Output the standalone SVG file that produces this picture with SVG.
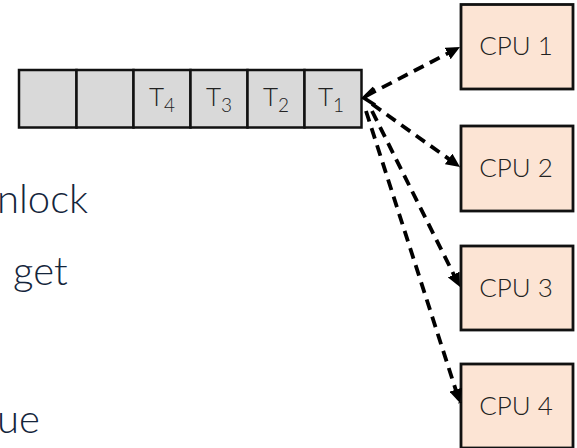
<svg xmlns="http://www.w3.org/2000/svg" width="577" height="448" viewBox="0 0 577 448">
<style>
.bg{fill:#ffffff}
.cell{fill:#d9d9d9;stroke:#111;stroke-width:2.5}
.cpu{fill:#fce4d4;stroke:#111;stroke-width:2.8}
.lbl{font-family:"Lato","Liberation Sans",sans-serif;font-weight:300;font-size:26px;fill:#222;text-anchor:middle}
.sub{font-size:19px}
.side{font-family:"Lato","Liberation Sans",sans-serif;font-weight:300;font-size:40px;fill:#14253b}
.conn{fill:none;stroke:#000;stroke-width:3.8;stroke-dasharray:11 7}
</style>
<defs>
<marker id="ah" markerUnits="userSpaceOnUse" markerWidth="15" markerHeight="13" refX="14" refY="6.5" orient="auto">
<path d="M0,0 L14,6.5 L0,13 Z" fill="#000"/>
</marker>
</defs>
<rect class="bg" x="0" y="0" width="577" height="448"/>
<g id="side-text">
<text class="side" x="-3" y="213">nlock</text>
<text class="side" x="13" y="285">get</text>
<text class="side" x="-3" y="433">ue</text>
</g>
<g id="queue">
<rect class="cell" x="19" y="70" width="57.5" height="57.5"/>
<rect class="cell" x="76.5" y="70" width="57" height="57.5"/>
<rect class="cell" x="133.5" y="70" width="57" height="57.5"/>
<rect class="cell" x="190.5" y="70" width="57" height="57.5"/>
<rect class="cell" x="247.5" y="70" width="57" height="57.5"/>
<rect class="cell" x="304.5" y="70" width="57" height="57.5"/>
<text class="lbl" x="162" y="106">T<tspan class="sub" dy="6">4</tspan></text>
<text class="lbl" x="219" y="106">T<tspan class="sub" dy="6">3</tspan></text>
<text class="lbl" x="276" y="106">T<tspan class="sub" dy="6">2</tspan></text>
<text class="lbl" x="331" y="106">T<tspan class="sub" dy="6">1</tspan></text>
</g>
<g id="cpu1">
<rect class="cpu" x="461" y="4.5" width="112" height="84.5"/>
<text class="lbl" x="516" y="55">CPU 1</text>
</g>
<g id="cpu2">
<rect class="cpu" x="461" y="126" width="112" height="85"/>
<text class="lbl" x="516" y="177">CPU 2</text>
</g>
<g id="cpu3">
<rect class="cpu" x="461" y="246" width="112" height="84"/>
<text class="lbl" x="516" y="297">CPU 3</text>
</g>
<g id="cpu4">
<rect class="cpu" x="461" y="364" width="112" height="84"/>
<text class="lbl" x="516" y="415">CPU 4</text>
</g>
<g id="connectors">
<path class="conn" d="M366,96 L460,47" marker-end="url(#ah)"/>
<path d="M374,88 L364,98 L375,105" fill="none" stroke="#000" stroke-width="3.8"/>
<path class="conn" d="M372,104 L460,167" marker-end="url(#ah)"/>
<path class="conn" d="M372,111 L460,287" marker-end="url(#ah)"/>
<path class="conn" d="M366,111 L460,403" marker-end="url(#ah)"/>
</g>
</svg>
